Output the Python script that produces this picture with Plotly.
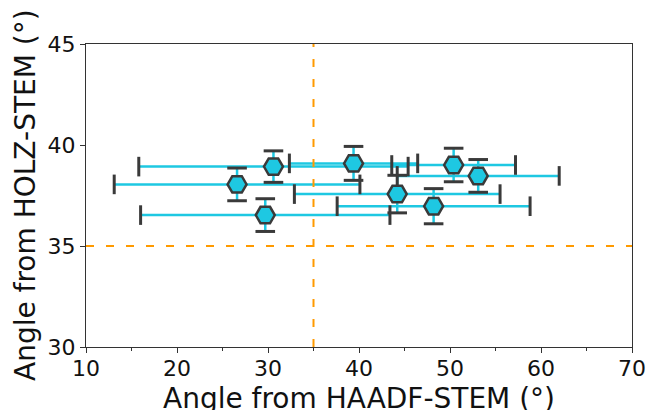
import plotly.graph_objects as go

# Data
haadf = [30.6, 26.6, 29.7, 39.4, 44.2, 48.2, 50.4, 53.1]
holz = [38.93, 38.05, 36.53, 39.09, 37.57, 36.97, 39.01, 38.47]
haadf_err = [14.8, 13.5, 13.7, 7.05, 11.3, 10.6, 6.8, 8.9]
holz_err = [0.78, 0.81, 0.81, 0.84, 0.93, 0.87, 0.83, 0.81]
ref_haadf = 35
ref_holz = 35
x_ticks = [10, 20, 30, 40, 50, 60, 70]
y_ticks = [30, 35, 40, 45]
x_title = "Angle from HAADF-STEM (°)"
y_title = "Angle from HOLZ-STEM (°)"

CYAN = "#1ec8e2"
EDGE = "#3a3a3a"
ORANGE = "#ff9a00"
FONT = "DejaVu Sans"

fig = go.Figure()

# cyan error-bar stems
fig.add_trace(go.Scatter(
    x=haadf, y=holz, mode="markers",
    marker=dict(size=1, opacity=0),
    error_x=dict(type="data", array=haadf_err, visible=True, color=CYAN, thickness=2.5, width=0),
    error_y=dict(type="data", array=holz_err, visible=True, color=CYAN, thickness=2.5, width=0),
    hoverinfo="skip", showlegend=False,
))

# dark caps (drawn as markers at the error-bar ends)
cap_x = [a - e for a, e in zip(haadf, haadf_err)] + [a + e for a, e in zip(haadf, haadf_err)]
cap_xy = holz + holz
fig.add_trace(go.Scatter(
    x=cap_x, y=cap_xy, mode="markers",
    marker=dict(symbol="line-ns", size=14, line=dict(color=EDGE, width=3)),
    hoverinfo="skip", showlegend=False,
))
cap_y = [b - e for b, e in zip(holz, holz_err)] + [b + e for b, e in zip(holz, holz_err)]
cap_yx = haadf + haadf
fig.add_trace(go.Scatter(
    x=cap_yx, y=cap_y, mode="markers",
    marker=dict(symbol="line-ew", size=14, line=dict(color=EDGE, width=3)),
    hoverinfo="skip", showlegend=False,
))

# hexagon markers
fig.add_trace(go.Scatter(
    x=haadf, y=holz, mode="markers",
    marker=dict(symbol="hexagon2", size=19, color=CYAN, line=dict(color=EDGE, width=2.5)),
    showlegend=False,
))

# dashed reference lines
fig.add_shape(type="line", xref="x", yref="paper", x0=ref_haadf, x1=ref_haadf, y0=0, y1=1,
              line=dict(color=ORANGE, width=2, dash="8px,12px"), layer="above")
fig.add_shape(type="line", xref="paper", yref="y", x0=0, x1=1, y0=ref_holz, y1=ref_holz,
              line=dict(color=ORANGE, width=2, dash="8px,12px"), layer="above")

axis_common = dict(
    showline=True, linecolor="#333333", linewidth=1.3, mirror=True,
    ticks="outside", ticklen=5, tickwidth=1.3, tickcolor="#333333",
    showgrid=False, zeroline=False, automargin=False,
    tickfont=dict(family=FONT, size=22, color="#111111"),
)

fig.update_xaxes(
    range=[10, 70], tickvals=x_ticks, ticktext=[str(v) for v in x_ticks],
    minor=dict(dtick=5, tick0=10, ticks="outside", ticklen=3, tickwidth=1, tickcolor="#333333"),
    ticklabelstandoff=-4,
    **axis_common,
)
fig.update_yaxes(
    range=[30, 45], tickvals=y_ticks, ticktext=[str(v) for v in y_ticks],
    **axis_common,
)

fig.add_annotation(text=x_title, xref="paper", yref="paper", x=0.5, y=0,
                   xanchor="center", yanchor="top", yshift=-33, showarrow=False,
                   font=dict(family=FONT, size=28, color="#111111"))
fig.add_annotation(text=y_title, xref="paper", yref="paper", x=0, y=0.5,
                   xanchor="right", yanchor="middle", xshift=-42, textangle=-90, showarrow=False,
                   font=dict(family=FONT, size=28, color="#111111"))

fig.update_layout(
    width=649, height=410,
    margin=dict(l=86, r=17, t=44, b=63),
    paper_bgcolor="white", plot_bgcolor="white",
)

fig.write_html("out.html", config={"displayModeBar": False},
               post_script="document.body.style.margin='0';")
